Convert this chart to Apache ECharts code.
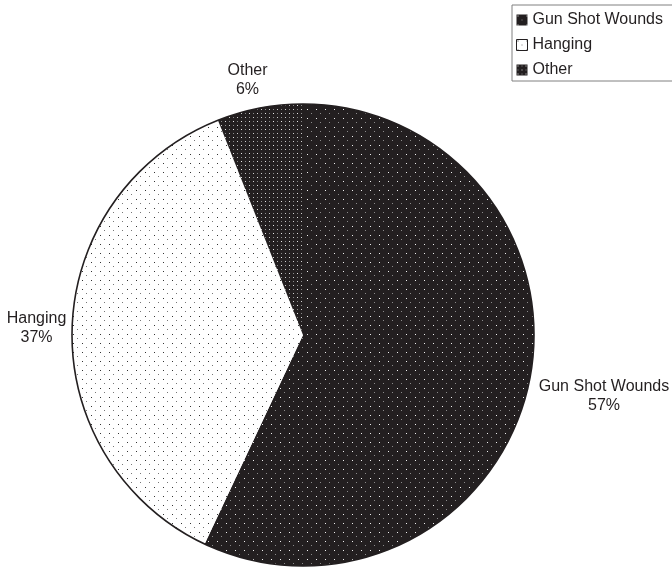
<!DOCTYPE html>
<html><head><meta charset="utf-8">
<script src="https://cdn.jsdelivr.net/npm/echarts@6/dist/echarts.min.js"></script>
<style>html,body{margin:0;padding:0;background:#fff}#c{width:672px;height:567px}</style>
</head><body><div id="c"></div>
<script>
// ---- data ----
const categories = ['Gun Shot Wounds', 'Hanging', 'Other'];
const percents = [57, 37, 6];

// ---- style ----
const INK = '#231f20';
const FONT = '"Liberation Sans", Arial, Helvetica, sans-serif';
const labelAnchors = [[604, 396], [36.5, 328], [247.5, 80.5]];

function makePattern(w, h, bg, dots) {
  const c = document.createElement('canvas');
  c.width = w; c.height = h;
  const g = c.getContext('2d');
  g.fillStyle = bg; g.fillRect(0, 0, w, h);
  dots.forEach(d => { g.fillStyle = d[2]; g.fillRect(d[0], d[1], 1, 1); });
  return { image: c, repeat: 'repeat' };
}
const patGun = makePattern(9, 9, INK, [[1, 1, '#f0f0f0'], [5, 5, '#8a8a8a']]);
const patHang = makePattern(9, 9, '#ffffff', [[1, 1, '#333'], [5, 5, '#777']]);
const patOther = makePattern(8, 8, INK, [[1, 1, '#e8e8e8'], [5, 1, '#8a8a8a'], [1, 5, '#8a8a8a'], [5, 5, '#d0d0d0']]);
const patterns = [patGun, patHang, patOther];

const chart = echarts.init(document.getElementById('c'), null, { renderer: 'canvas' });
const center = [303, 335];
const radius = 231;

chart.setOption({
  animation: false,
  backgroundColor: '#ffffff',
  legend: {
    orient: 'vertical',
    left: 512, top: 5,
    padding: [7, 10, 3, 4],
    itemWidth: 11, itemHeight: 11,
    itemGap: 9,
    borderColor: '#808080', borderWidth: 1,
    icon: 'rect',
    textStyle: { fontSize: 16, color: INK, fontFamily: FONT },
    data: categories.map((n, i) => i === 1
      ? { name: n, itemStyle: { borderColor: INK, borderWidth: 1 } }
      : { name: n })
  },
  series: [
    {
      type: 'pie',
      center: center, radius: radius,
      startAngle: 90, clockwise: true,
      silent: true,
      itemStyle: { borderWidth: 0 },
      labelLine: { show: false },
      label: {
        show: true, position: 'outside', overflow: 'none',
        fontSize: 16, lineHeight: 19, color: INK, fontFamily: FONT,
        formatter: p => p.name + '\n' + p.value + '%'
      },
      labelLayout: p => ({
        x: labelAnchors[p.dataIndex][0], y: labelAnchors[p.dataIndex][1],
        align: 'center', verticalAlign: 'middle'
      }),
      data: categories.map((n, i) => ({ name: n, value: percents[i], itemStyle: { color: patterns[i] } }))
    },
    {
      type: 'pie',
      center: center, radius: radius,
      silent: true, z: 5,
      label: { show: false }, labelLine: { show: false },
      itemStyle: { color: 'rgba(0,0,0,0)', borderColor: INK, borderWidth: 1.6 },
      data: [{ value: 1, name: '__outline' }]
    }
  ]
});
</script></body></html>
